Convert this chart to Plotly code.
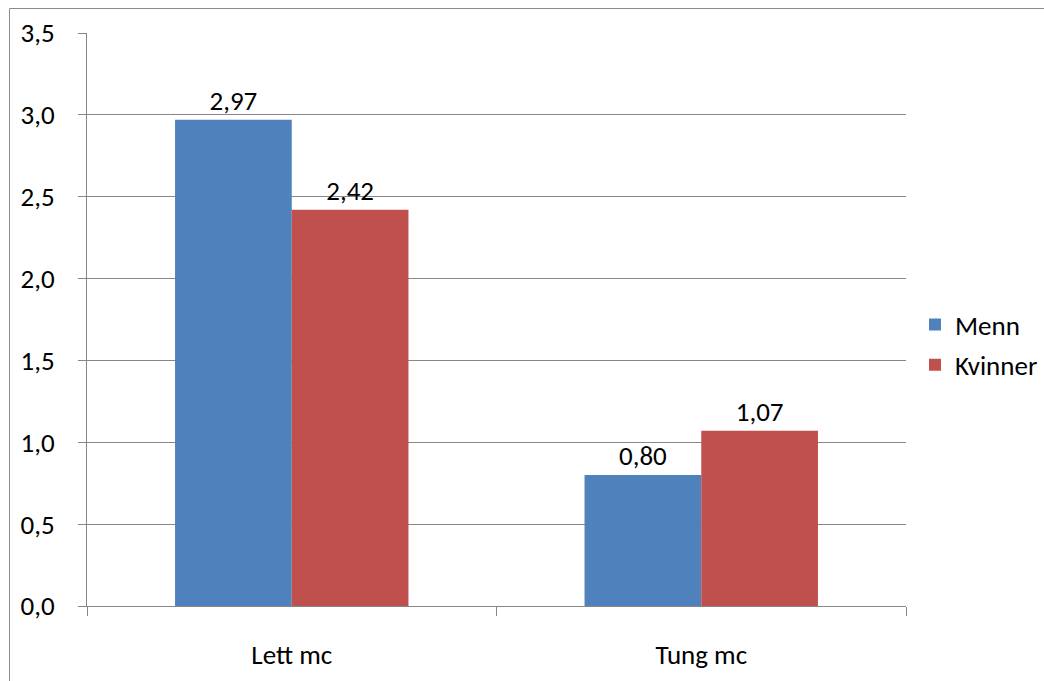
import plotly.graph_objects as go

categories = ["Lett mc", "Tung mc"]
menn = [2.97, 0.80]
kvinner = [2.42, 1.07]
y_ticks = [0, 0.5, 1.0, 1.5, 2.0, 2.5, 3.0, 3.5]

W, H = 1044, 681
L, R, T, B = 87, 138, 33, 75
pw, ph = W - L - R, H - T - B

font_family = "Carlito, Calibri, Lato, sans-serif"
fs = 27
grid_col = "#878787"

fig = go.Figure()
for name, vals, col in [("Menn", menn, "#4F81BD"), ("Kvinner", kvinner, "#C0504D")]:
    fig.add_trace(go.Bar(
        x=categories, y=vals, name=name, legendgroup=name,
        marker=dict(color=col, line=dict(width=0)),
        text=[f"{v:.2f}".replace(".", ",") for v in vals],
        textposition="outside", cliponaxis=False,
        textfont=dict(size=fs, color="black", family=font_family),
    ))

# outer chart frame
fig.add_shape(type="rect", xref="paper", yref="paper",
              x0=(9.5 - L) / pw, x1=(W + 20 - L) / pw,
              y0=-(B + 20) / ph, y1=(606 - 8.5) / ph,
              line=dict(color="#8c8c8c", width=1), fillcolor="rgba(0,0,0,0)", layer="below")

fig.update_layout(
    width=W, height=H,
    margin=dict(l=L, r=R, t=T, b=B, autoexpand=False),
    paper_bgcolor="white", plot_bgcolor="white",
    separators=", ",
    barmode="group", bargap=0.43, bargroupgap=0,
    font=dict(family=font_family, size=fs, color="black"),
    showlegend=True,
    legend=dict(x=(915 - L) / pw, xanchor="left", y=(606 - 345) / ph, yanchor="middle",
                font=dict(size=fs, family=font_family), itemwidth=30,
                tracegroupgap=2, bgcolor="rgba(0,0,0,0)"),
    xaxis=dict(type="category", showgrid=False, showline=True, linecolor=grid_col, linewidth=1,
               ticks="outside", tickson="boundaries", ticklen=9, tickcolor=grid_col,
               ticklabelstandoff=25, tickfont=dict(size=fs)),
    yaxis=dict(range=[0, 3.5], tickvals=y_ticks, tickformat=".1f",
               showgrid=True, gridcolor=grid_col, gridwidth=1,
               showline=True, linecolor=grid_col, linewidth=1, zeroline=False,
               ticks="outside", ticklen=8, tickcolor=grid_col,
               ticklabelstandoff=18, tickfont=dict(size=fs)),
)

fig.write_html("out.html")
